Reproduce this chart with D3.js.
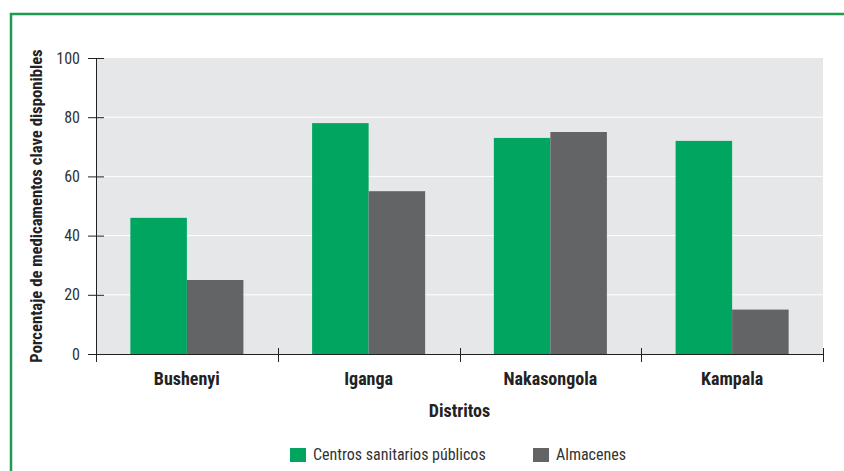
<!DOCTYPE html>
<html>
<head>
<meta charset="utf-8">
<script src="https://cdn.jsdelivr.net/npm/d3@7"></script>
<style>
  body { margin: 0; background: #fff; }
  svg text { font-family: "Liberation Sans Narrow", "Roboto Condensed", "Open Sans", sans-serif; }
</style>
</head>
<body>
<svg id="chart"></svg>
<script>
// chart data
const districts = ['Bushenyi', 'Iganga', 'Nakasongola', 'Kampala'];
const seriesNames = ['Centros sanitarios públicos', 'Almacenes'];
const publicCentres = [46, 78, 73, 72];
const stores = [25, 55, 75, 15];
const yTicks = [0, 20, 40, 60, 80, 100];

const colors = ['#00a65f', '#636466'];

const width = 844;
const height = 471;
const margin = { top: 58, right: 21, bottom: 117, left: 96 };

const svg = d3.select('#chart')
    .attr('width', width).attr('height', height);

// green frame, open at right and bottom
svg.append('path')
    .attr('d', `M11,${height} L11,14 L${width},14`)
    .attr('fill', 'none')
    .attr('stroke', '#1f9a4f')
    .attr('stroke-width', 2.5);

const x = d3.scaleBand()
    .domain(districts)
    .range([margin.left, width - margin.right]);

const y = d3.scaleLinear()
    .domain([0, 100])
    .range([height - margin.bottom, margin.top]);

// plot background
svg.append('rect')
    .attr('x', margin.left).attr('y', margin.top)
    .attr('width', width - margin.left - margin.right)
    .attr('height', height - margin.top - margin.bottom)
    .attr('fill', '#e6e7e8');

// white gridlines
svg.append('g')
    .selectAll('line')
    .data(yTicks.filter(d => d > 0 && d < 100))
    .enter().append('line')
    .attr('x1', margin.left).attr('x2', width - margin.right)
    .attr('y1', d => y(d)).attr('y2', d => y(d))
    .attr('stroke', '#fff')
    .attr('stroke-width', 1);

// bars
const barW = x.bandwidth() * 0.311;
const series = [publicCentres, stores];
series.forEach((vals, s) => {
    svg.append('g')
        .selectAll('rect')
        .data(districts)
        .enter().append('rect')
        .attr('x', (d) => x(d) + x.bandwidth() / 2 - barW + s * barW)
        .attr('y', (d, i) => y(vals[i]))
        .attr('width', barW)
        .attr('height', (d, i) => y(0) - y(vals[i]))
        .attr('fill', colors[s]);
});

// y axis
const yAxis = svg.append('g')
    .attr('transform', `translate(${margin.left},0)`)
    .call(d3.axisLeft(y).tickValues(yTicks).tickSize(8).tickPadding(8));
yAxis.select('.domain').attr('stroke', '#222').attr('d', `M0.5,${y(100)}V${y(0)}`);
yAxis.selectAll('.tick line').attr('stroke', '#222').attr('x2', 8).attr('x1', -8);
yAxis.selectAll('.tick text')
    .attr('fill', '#333')
    .style('font-size', '16px')
    .attr('x', -16);

// x axis: baseline plus boundary ticks
const xAxis = svg.append('g');
xAxis.append('line')
    .attr('x1', margin.left).attr('x2', width - margin.right)
    .attr('y1', y(0) + 0.5).attr('y2', y(0) + 0.5)
    .attr('stroke', '#222');
const bounds = districts.map(d => x(d)).concat([x.range()[1]]);
xAxis.selectAll('.bound')
    .data(bounds)
    .enter().append('line')
    .attr('class', 'bound')
    .attr('x1', d => Math.round(d) + 0.5).attr('x2', d => Math.round(d) + 0.5)
    .attr('y1', y(0) - 6).attr('y2', y(0) + 8)
    .attr('stroke', '#222');
xAxis.selectAll('.label')
    .data(districts)
    .enter().append('text')
    .attr('class', 'label')
    .attr('x', d => x(d) + x.bandwidth() / 2)
    .attr('y', 385)
    .attr('text-anchor', 'middle')
    .style('font-size', '18px')
    .style('font-weight', 'bold')
    .attr('fill', '#222')
    .text(d => d);

// axis titles
svg.append('text')
    .attr('x', (margin.left + width - margin.right) / 2)
    .attr('y', 417)
    .attr('text-anchor', 'middle')
    .style('font-size', '18px')
    .style('font-weight', 'bold')
    .attr('fill', '#222')
    .text('Distritos');

svg.append('text')
    .attr('transform', `translate(42,${(y(0) + y(100)) / 2}) rotate(-90)`)
    .attr('text-anchor', 'middle')
    .style('font-size', '16.7px')
    .style('font-weight', 'bold')
    .attr('fill', '#222')
    .text('Porcentaje de medicamentos clave disponibles');

// legend
const legendX = [290, 533];
const legend = svg.append('g');
seriesNames.forEach((name, i) => {
    legend.append('rect')
        .attr('x', legendX[i]).attr('y', 448)
        .attr('width', 16).attr('height', 14)
        .attr('fill', colors[i]);
    legend.append('text')
        .attr('x', legendX[i] + 23).attr('y', 460)
        .style('font-size', '16px')
        .attr('fill', '#333')
        .text(name);
});
</script>
</body>
</html>
